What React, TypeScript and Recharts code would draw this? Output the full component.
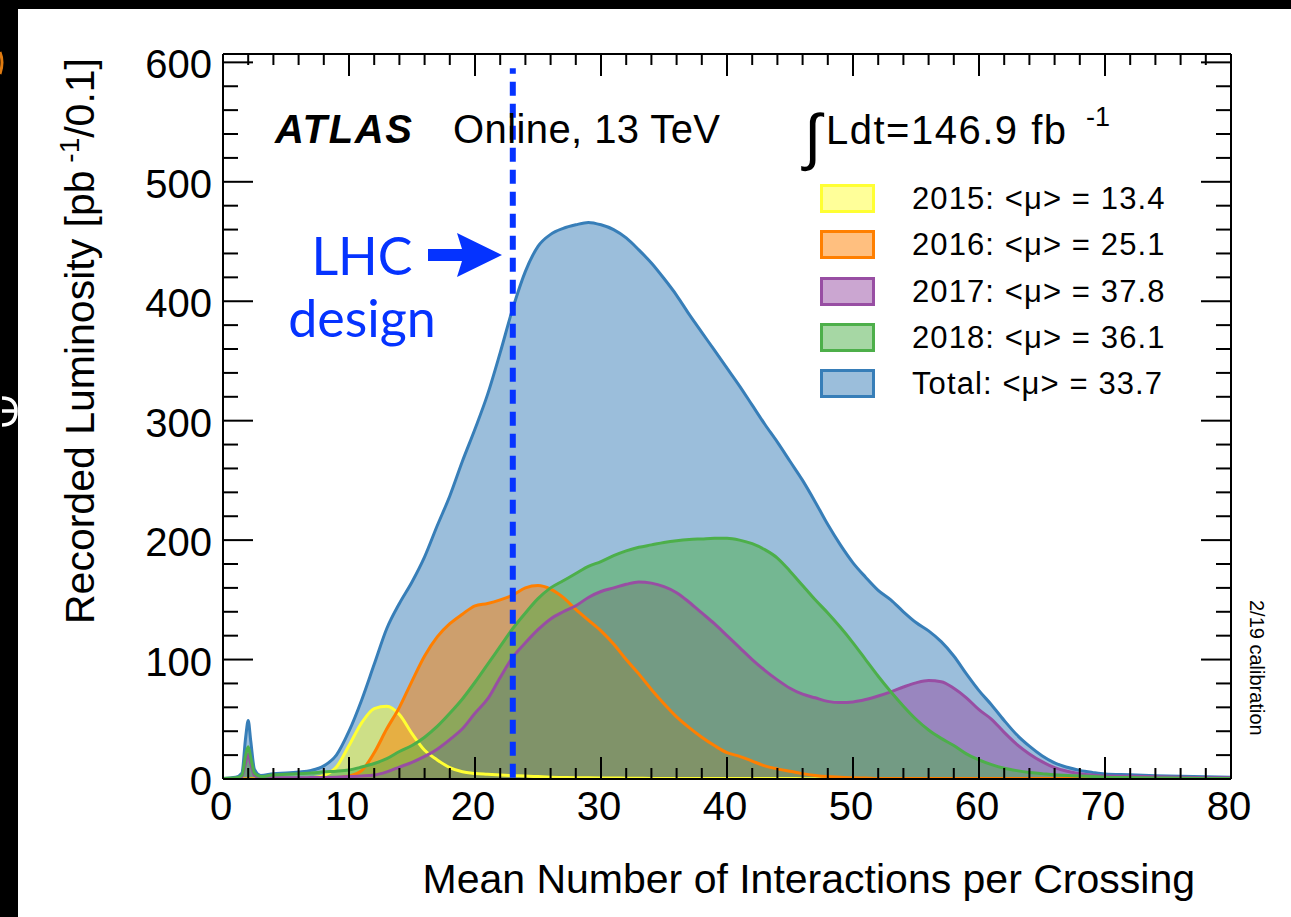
import React from 'react';
import { ComposedChart, Area, Line, XAxis, YAxis, ReferenceLine, Legend } from 'recharts';

// Mean number of interactions per crossing (bin centres)
const MU = [0, 1, 1.5, 1.8, 2, 2.2, 2.5, 3, 4, 5, 6, 7, 8, 9, 10, 11, 12, 13, 14, 15, 16, 17, 18, 19, 20,
  21, 22, 23, 24, 25, 26, 27, 28, 29, 30, 31, 32, 33, 34, 35, 36, 37, 38, 39, 40, 41, 42, 43, 44, 45,
  46, 47, 48, 49, 50, 51, 52, 53, 54, 55, 56, 57, 58, 59, 60, 61, 62, 63, 64, 65, 66, 67, 68, 69, 70,
  72, 74, 76, 78, 80];

// Recorded luminosity [pb^-1 / 0.1]
const TOTAL = [0.5, 1.5, 5, 35, 49, 32, 8, 3, 4.5, 5, 5.8, 7.2, 11, 20, 40, 66, 96, 126, 147, 165, 186,
  212, 237, 266, 293, 322, 357, 394, 425, 446, 456, 461, 464, 466, 464, 460, 453, 443, 432, 419, 405,
  389, 374, 359, 344, 329, 313, 297, 282, 266, 250, 232, 213, 196, 181, 169, 158, 150, 140, 131, 124,
  115, 103, 88, 74, 62, 49, 37, 27.5, 19.5, 13.5, 9.8, 7.2, 5.5, 4.2, 3.6, 2.8, 2.2, 1.8, 1.5];

const Y2015 = [0, 0, 0, 0, 0, 0, 0, 0, 0, 0, 0.3, 1, 3, 10, 28, 47, 59, 61, 54, 38, 24, 16, 9.5, 6, 4.7,
  4, 3.3, 2.8, 2.5, 2, 1.5, 1.3, 1.1, 1, 0.9, 0.8, 0.7, 0.6, 0.5, 0.5, 0.4, 0.4, 0.4, 0.4, 0.4, 0.4,
  0.4, 0.4, 0.4, 0.4, 0.3, 0.3, 0.3, 0.3, 0.3, 0.3, 0.3, 0.3, 0.3, 0.3, 0.3, 0.3, 0.3, 0.3, 0.3, 0.2,
  0.2, 0.2, 0.2, 0.2, 0.2, 0.2, 0.2, 0.2, 0.2, 0.2, 0.2, 0.2, 0.2, 0.2];

const Y2016 = [0, 0, 0, 0, 0, 0, 0, 0, 0, 0, 0, 0, 0, 1, 2.5, 7, 22, 42, 60, 82, 103, 119, 130, 138, 145,
  147, 150, 154, 160, 162, 159, 152, 142, 133, 124, 113, 100, 88, 75, 63, 52, 43, 35, 28, 22, 19, 15,
  11, 8.5, 6.5, 4.5, 3, 2, 1.5, 1, 0.8, 0.5, 0.5, 0.5, 0.5, 0.5, 0.5, 0.5, 0.5, 0.5, 0.5, 0.5, 0.5,
  0.5, 0.5, 0.5, 0.5, 0.5, 0.5, 0.5, 0.3, 0.3, 0.3, 0.3, 0.3];

const Y2017 = [0.3, 0.5, 2, 14, 21, 13, 3, 1, 1, 1, 1, 1.2, 1.3, 1.5, 2, 2.5, 3.3, 6, 10, 14, 19, 25, 33,
  42, 55, 67, 85, 102, 114, 125, 134, 140, 145, 152, 157, 160, 163, 165, 164, 161, 156, 148, 139, 130,
  120, 110, 100, 91, 83, 76, 71, 68, 65, 64, 64.5, 66.5, 69.5, 73, 77, 80.5, 82.5, 81.5, 76, 68, 58,
  50, 39, 29, 21, 14.5, 9.5, 6.5, 4.5, 3.3, 2.5, 2.3, 1.8, 1.4, 1.1, 1];

const Y2018 = [0.5, 1, 3, 20, 27, 18, 5, 2, 3.5, 4, 4.5, 5, 6, 6.5, 7.5, 10, 13, 17, 23, 28, 35, 44, 55,
  67, 81, 96, 111, 126, 139, 151, 160, 166, 172, 178, 182, 187, 191, 194, 196, 198, 199.5, 200.5, 201,
  201.5, 201.5, 200, 197, 192, 185, 174, 162, 150, 139, 127, 114, 100, 86, 73, 61, 50, 41, 34, 28, 21,
  16, 12, 9, 7, 5.5, 4.5, 3.5, 3, 2.5, 2, 1.5, 1.2, 0.9, 0.7, 0.5, 0.4];

const X_TICKS = [0, 2, 4, 6, 8, 10, 12, 14, 16, 18, 20, 22, 24, 26, 28, 30, 32, 34, 36, 38, 40, 42, 44,
  46, 48, 50, 52, 54, 56, 58, 60, 62, 64, 66, 68, 70, 72, 74, 76, 78, 80];
const Y_TICKS = [0, 20, 40, 60, 80, 100, 120, 140, 160, 180, 200, 220, 240, 260, 280, 300, 320, 340, 360,
  380, 400, 420, 440, 460, 480, 500, 520, 540, 560, 580, 600];

const LHC_DESIGN_MU = 23;

const SERIES = [
  { key: 'total', label: 'Total: <μ> = 33.7', color: '#377eb8', fill: 'rgba(55,126,184,0.5)' },
  { key: 'y2015', label: '2015: <μ> = 13.4', color: '#ffff33', fill: 'rgba(255,255,51,0.5)' },
  { key: 'y2016', label: '2016: <μ> = 25.1', color: '#ff7f00', fill: 'rgba(255,127,0,0.5)' },
  { key: 'y2017', label: '2017: <μ> = 37.8', color: '#984ea3', fill: 'rgba(152,78,163,0.5)' },
  { key: 'y2018', label: '2018: <μ> = 36.1', color: '#4daf4a', fill: 'rgba(77,175,74,0.5)' },
];
const LEGEND_ORDER = ['y2015', 'y2016', 'y2017', 'y2018', 'total'];

const data = MU.map((m, i) => ({
  mu: m,
  total: TOTAL[i],
  y2015: Y2015[i],
  y2016: Y2016[i],
  y2017: Y2017[i],
  y2018: Y2018[i],
}));

const FONT = "'Liberation Sans', Arial, Helvetica, sans-serif";
const W = 1291;
const H = 917;
const PLOT_LEFT = 223;
const PLOT_RIGHT = 1231;
const PLOT_TOP = 54;
const PLOT_BOTTOM = 779;
const Y_AXIS_W = 140;
const X_AXIS_H = 100;

const BottomTick = (p: any) => {
  const v = p.payload.value;
  const major = v % 10 === 0;
  return (
    <g>
      <line x1={p.x} x2={p.x} y1={p.y} y2={p.y - (major ? 22 : 11)} stroke="#000" strokeWidth={2} />
      {major && (
        <text x={p.x - 2} y={p.y + 41} textAnchor="middle" fontSize={40} fontFamily={FONT} fill="#000">
          {v}
        </text>
      )}
    </g>
  );
};

const TopTick = (p: any) => {
  const v = p.payload.value;
  const major = v % 10 === 0;
  return <line x1={p.x} x2={p.x} y1={p.y} y2={p.y + (major ? 22 : 11)} stroke="#000" strokeWidth={2} />;
};

const LeftTick = (p: any) => {
  const v = p.payload.value;
  const major = v % 100 === 0;
  return (
    <g>
      <line x1={p.x} x2={p.x + (major ? 30 : 15)} y1={p.y} y2={p.y} stroke="#000" strokeWidth={2} />
      {major && (
        <text x={p.x - 11} y={p.y + 16} textAnchor="end" fontSize={40} fontFamily={FONT} fill="#000">
          {v}
        </text>
      )}
    </g>
  );
};

const RightTick = (p: any) => {
  const v = p.payload.value;
  const major = v % 100 === 0;
  return <line x1={p.x} x2={p.x - (major ? 30 : 15)} y1={p.y} y2={p.y} stroke="#000" strokeWidth={2} />;
};

const renderLegend = () => (
  <div style={{ position: 'relative', width: 380, height: 230, fontFamily: FONT }}>
    {LEGEND_ORDER.map((key, i) => {
      const s = SERIES.find((x) => x.key === key)!;
      return (
        <div
          key={key}
          style={{ position: 'absolute', left: 0, top: i * 46.3, height: 29, display: 'flex', alignItems: 'center' }}
        >
          <div
            style={{
              width: 55,
              height: 29,
              boxSizing: 'border-box',
              border: `3px solid ${s.color}`,
              background: s.fill,
            }}
          />
          <span
            style={{
              marginLeft: 37,
              fontSize: 31,
              letterSpacing: 1.1,
              color: '#000',
              whiteSpace: 'nowrap',
              lineHeight: '29px',
            }}
          >
            {s.label}
          </span>
        </div>
      );
    })}
  </div>
);

export default function App() {
  return (
    <div style={{ position: 'absolute', left: 0, top: 0, width: W, height: H, background: '#000', overflow: 'hidden' }}>
      <svg width={W} height={H} style={{ position: 'absolute', left: 0, top: 0 }}>
        <path d="M 2 398 Q 16 398 16 411 Q 16 425 2 425" fill="none" stroke="#fff" strokeWidth={3.5} />
        <line x1={2} y1={411} x2={16} y2={411} stroke="#fff" strokeWidth={3.5} />
        <path d="M 0 52 Q 4 62 0 74" fill="none" stroke="#e07b10" strokeWidth={3} />
      </svg>
      <div style={{ position: 'absolute', left: 18, top: 9, right: 0, bottom: 0, background: '#fff' }} />
      <ComposedChart
        width={W}
        height={H}
        data={data}
        margin={{
          top: PLOT_TOP - 1,
          right: W - PLOT_RIGHT - 1,
          bottom: H - PLOT_BOTTOM - X_AXIS_H,
          left: PLOT_LEFT - Y_AXIS_W,
        }}
        style={{ position: 'absolute', left: 0, top: 0 }}
      >
        <XAxis
          xAxisId="b"
          dataKey="mu"
          type="number"
          domain={[0, 80]}
          ticks={X_TICKS}
          interval={0}
          allowDataOverflow
          height={X_AXIS_H}
          tickSize={0}
          tickMargin={0}
          tickLine={false}
          axisLine={{ stroke: '#000', strokeWidth: 2 }}
          tick={<BottomTick />}
        />
        <XAxis
          xAxisId="t"
          orientation="top"
          dataKey="mu"
          type="number"
          domain={[0, 80]}
          ticks={X_TICKS}
          interval={0}
          allowDataOverflow
          height={1}
          tickSize={0}
          tickMargin={0}
          tickLine={false}
          axisLine={{ stroke: '#000', strokeWidth: 2 }}
          tick={<TopTick />}
        />
        <YAxis
          yAxisId="l"
          type="number"
          domain={[0, 607]}
          ticks={Y_TICKS}
          interval={0}
          allowDataOverflow
          width={Y_AXIS_W}
          tickSize={0}
          tickMargin={0}
          tickLine={false}
          axisLine={{ stroke: '#000', strokeWidth: 2 }}
          tick={<LeftTick />}
        />
        <YAxis
          yAxisId="r"
          orientation="right"
          type="number"
          domain={[0, 607]}
          ticks={Y_TICKS}
          interval={0}
          allowDataOverflow
          width={1}
          tickSize={0}
          tickMargin={0}
          tickLine={false}
          axisLine={{ stroke: '#000', strokeWidth: 2 }}
          tick={<RightTick />}
        />
        {SERIES.map((s) => (
          <Area
            key={`fill-${s.key}`}
            xAxisId="b"
            yAxisId="l"
            type="monotone"
            dataKey={s.key}
            name={s.label}
            stroke="none"
            fill={s.color}
            fillOpacity={0.5}
            dot={false}
            activeDot={false}
            isAnimationActive={false}
          />
        ))}
        {SERIES.map((s) => (
          <Line
            key={`line-${s.key}`}
            xAxisId="b"
            yAxisId="l"
            type="monotone"
            dataKey={s.key}
            stroke={s.color}
            strokeWidth={3}
            dot={false}
            activeDot={false}
            legendType="none"
            isAnimationActive={false}
          />
        ))}
        <Line
          xAxisId="t"
          yAxisId="r"
          type="monotone"
          dataKey="total"
          stroke="none"
          dot={false}
          activeDot={false}
          legendType="none"
          isAnimationActive={false}
        />
        <ReferenceLine
          xAxisId="b"
          yAxisId="l"
          segment={[{ x: LHC_DESIGN_MU, y: 1 }, { x: LHC_DESIGN_MU, y: 595 }]}
          stroke="#0533ff"
          strokeWidth={6}
          strokeDasharray="14 8"
        />
        <Legend
          layout="vertical"
          align="center"
          verticalAlign="middle"
          content={renderLegend}
          wrapperStyle={{ left: 820, top: 184, width: 380, height: 230 }}
        />
      </ComposedChart>
      <svg width={W} height={H} style={{ position: 'absolute', left: 0, top: 0, pointerEvents: 'none' }}>
        <text x={275} y={143} fontSize={40} fontFamily={FONT} fontWeight="bold" fontStyle="italic" fill="#000"
          textLength={137} lengthAdjust="spacing">
          ATLAS
        </text>
        <text x={453} y={143} fontSize={40} fontFamily={FONT} fill="#000" textLength={267} lengthAdjust="spacing">
          Online, 13 TeV
        </text>
        <text x={804} y={158} fontSize={62} fontFamily={FONT} fill="#000">
          ∫
        </text>
        <text x={826} y={144} fontSize={40} fontFamily={FONT} fill="#000" textLength={240} lengthAdjust="spacing">
          Ldt=146.9 fb
        </text>
        <text x={1086} y={126} fontSize={27} fontFamily={FONT} fill="#000">
          -1
        </text>
        <text x={362} y={275} textAnchor="middle" fontSize={52} fontFamily="Lato, 'Open Sans', sans-serif" fill="#0533ff">
          LHC
        </text>
        <text x={362} y={337} textAnchor="middle" fontSize={52} fontFamily="Lato, 'Open Sans', sans-serif" fill="#0533ff">
          design
        </text>
        <polygon points="428,249 462,249 457,233 502,255 457,277 462,261 428,261" fill="#0533ff" />
        <text x={1195} y={893} textAnchor="end" fontSize={41} fontFamily={FONT} fill="#000">
          Mean Number of Interactions per Crossing
        </text>
        <text transform="translate(94,58) rotate(-90)" textAnchor="end" fontSize={41} fontFamily={FONT} fill="#000">
          Recorded Luminosity [pb
          <tspan dy={-15} fontSize={28}> -1</tspan>
          <tspan dy={15}>/0.1]</tspan>
        </text>
        <text transform="translate(1250,600) rotate(90)" fontSize={20} fontFamily={FONT} fill="#000">
          2/19 calibration
        </text>
      </svg>
    </div>
  );
}
